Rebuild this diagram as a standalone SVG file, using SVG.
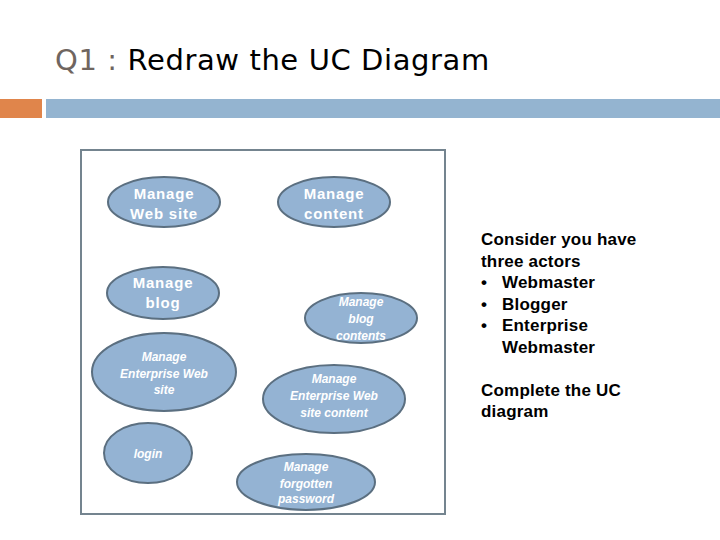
<svg xmlns="http://www.w3.org/2000/svg" width="720" height="540" viewBox="0 0 720 540">
<style>
.uc{fill:#94b3d3;stroke:#5b6f80;stroke-width:2}
.big{font-family:"Liberation Sans",sans-serif;font-weight:bold;font-size:15px;fill:#fff;text-anchor:middle;letter-spacing:0.8px}
.sm{font-family:"Liberation Sans",sans-serif;font-weight:bold;font-style:italic;font-size:12px;fill:#fff;text-anchor:middle}
.rt{font-family:"Liberation Sans",Arial,sans-serif;font-weight:bold;font-size:17px;fill:#000;letter-spacing:0.2px}
</style>
<rect width="720" height="540" fill="#fff"/>
<g id="title">
<text x="55" y="70" font-family="DejaVu Sans,sans-serif" font-size="29" fill="#000" letter-spacing="0.6"><tspan fill="#6f6560">Q1 :</tspan> Redraw the UC Diagram</text>
</g>
<rect x="0" y="99" width="42" height="19" fill="#e0854b"/>
<rect x="46" y="99" width="674" height="19" fill="#94b4d0"/>
<g id="system">
<rect x="81" y="150" width="364" height="364" fill="none" stroke="#74848f" stroke-width="2"/>
</g>
<g id="connectors"></g>
<g id="uc1"><ellipse class="uc" cx="164" cy="202" rx="56" ry="25"/><text class="big" x="164" y="199">Manage</text><text class="big" x="164" y="219">Web site</text></g>
<g id="uc2"><ellipse class="uc" cx="334" cy="202" rx="56" ry="25"/><text class="big" x="334" y="199">Manage</text><text class="big" x="334" y="219">content</text></g>
<g id="uc3"><ellipse class="uc" cx="163" cy="293" rx="56" ry="26"/><text class="big" x="163" y="288">Manage</text><text class="big" x="163" y="308">blog</text></g>
<g id="uc4"><ellipse class="uc" cx="361" cy="318" rx="56" ry="25"/><text class="sm" x="361" y="306">Manage</text><text class="sm" x="361" y="323">blog</text><text class="sm" x="361" y="340">contents</text></g>
<g id="uc5"><ellipse class="uc" cx="164" cy="372" rx="72" ry="39"/><text class="sm" x="164" y="361">Manage</text><text class="sm" x="164" y="378">Enterprise Web</text><text class="sm" x="164" y="394">site</text></g>
<g id="uc6"><ellipse class="uc" cx="334" cy="399" rx="71" ry="34"/><text class="sm" x="334" y="383">Manage</text><text class="sm" x="334" y="400">Enterprise Web</text><text class="sm" x="334" y="417">site content</text></g>
<g id="uc7"><ellipse class="uc" cx="148" cy="453" rx="44" ry="30"/><text class="sm" x="148" y="458">login</text></g>
<g id="uc8"><ellipse class="uc" cx="306" cy="482" rx="69" ry="28"/><text class="sm" x="306" y="471">Manage</text><text class="sm" x="306" y="488">forgotten</text><text class="sm" x="306" y="503">password</text></g>
<g id="notes">
<text class="rt" x="481" y="245">Consider you have</text>
<text class="rt" x="481" y="267">three actors</text>
<text class="rt" x="481" y="288">•</text><text class="rt" x="502" y="288">Webmaster</text>
<text class="rt" x="481" y="310">•</text><text class="rt" x="502" y="310">Blogger</text>
<text class="rt" x="481" y="331">•</text><text class="rt" x="502" y="331">Enterprise</text>
<text class="rt" x="502" y="353">Webmaster</text>
<text class="rt" x="481" y="396">Complete the UC</text>
<text class="rt" x="481" y="417">diagram</text>
</g>
</svg>
